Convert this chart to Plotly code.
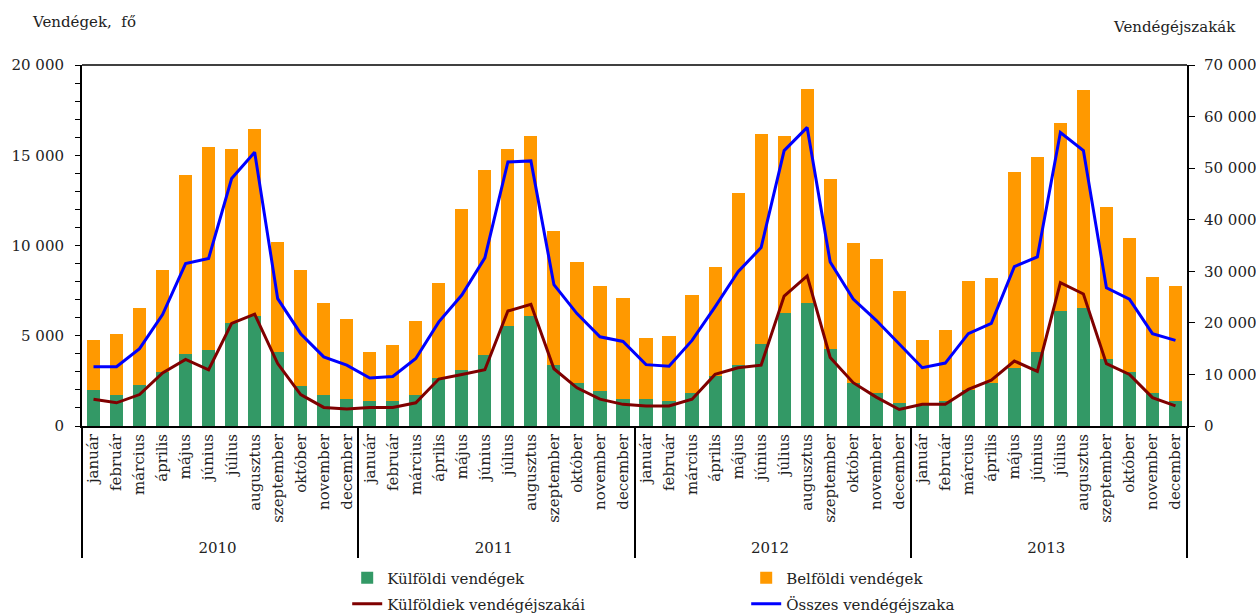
import plotly.graph_objects as go

years = ["2010", "2011", "2012", "2013"]
months = ["január", "február", "március", "április", "május", "június", "július",
          "augusztus", "szeptember", "október", "november", "december"]

kulfoldi_vendegek = [
    2020, 1740, 2290, 2990, 4010, 4200, 5730, 6100, 4100, 2200, 1740, 1480,
    1390, 1390, 1740, 2660, 3090, 3920, 5550, 6100, 3360, 2380, 1940, 1480,
    1480, 1390, 1830, 2750, 3360, 4570, 6270, 6820, 4290, 2380, 1850, 1280,
    1200, 1390, 2020, 2380, 3220, 4100, 6380, 6560, 3730, 2990, 1830, 1390,
]
belfoldi_vendegek = [
    2720, 3370, 4250, 5640, 9890, 11260, 9610, 10330, 6080, 6430, 5080, 4440,
    2720, 3090, 4090, 5250, 8910, 10240, 9800, 9960, 7430, 6690, 5800, 5620,
    3420, 3620, 5430, 6040, 9540, 11590, 9800, 11870, 9410, 7780, 7430, 6190,
    3550, 3920, 5990, 5800, 10850, 10800, 10410, 12050, 8430, 7450, 6430, 6360,
]
kulfoldiek_ejszakai = [
    5200, 4500, 6100, 10300, 12900, 10900, 19900, 21700, 12100, 6100, 3600, 3300,
    3600, 3600, 4500, 9100, 10000, 10900, 22300, 23600, 11100, 7400, 5200, 4200,
    3900, 3900, 5200, 10000, 11300, 11800, 25200, 29100, 13300, 8400, 5600, 3200,
    4200, 4200, 7100, 8900, 12600, 10600, 27800, 25600, 12100, 10000, 5500, 3900,
]
osszes_ejszaka = [
    11500, 11500, 15000, 21600, 31500, 32500, 48000, 53100, 24700, 17900, 13400, 11800,
    9300, 9600, 13100, 20200, 25400, 32600, 51200, 51400, 27400, 21800, 17300, 16400,
    11900, 11600, 16600, 23100, 29900, 34600, 53400, 57900, 31800, 24600, 20500, 16000,
    11300, 12200, 17900, 19900, 30900, 32800, 56900, 53400, 26800, 24600, 17900, 16600,
]

x_years = [y for y in years for _ in months]
x_months = months * len(years)
x = [x_years, x_months]

FONT = "DejaVu Serif"
TXT = "#222222"
fig = go.Figure()
fig.add_trace(go.Bar(x=x, y=kulfoldi_vendegek, name="Külföldi vendégek",
                     marker=dict(color="#339966", line=dict(width=0)), legend="legend"))
fig.add_trace(go.Bar(x=x, y=belfoldi_vendegek, name="Belföldi vendégek",
                     marker=dict(color="#FF9900", line=dict(width=0)), legend="legend"))
fig.add_trace(go.Scatter(x=x, y=kulfoldiek_ejszakai, name="Külföldiek vendégéjszakái",
                         mode="lines", line=dict(color="#7F0000", width=3), yaxis="y2",
                         legend="legend2"))
fig.add_trace(go.Scatter(x=x, y=osszes_ejszaka, name="Összes vendégéjszaka",
                         mode="lines", line=dict(color="#0000FF", width=3), yaxis="y2",
                         legend="legend2"))

fig.update_layout(
    width=1256, height=614,
    margin=dict(l=82, r=69, t=65, b=188, autoexpand=False),
    paper_bgcolor="white", plot_bgcolor="white",
    font=dict(family=FONT, size=15, color=TXT),
    separators=", ",
    barmode="stack", bargap=0.43,
    xaxis=dict(type="multicategory", tickangle=-90, showdividers=True,
               dividercolor="black", dividerwidth=1.5, showline=True,
               linecolor="black", linewidth=2, showgrid=False,
               tickfont=dict(family=FONT, size=15, color=TXT)),
    yaxis=dict(range=[0, 20000], dtick=5000, tickformat=",d", showgrid=False,
               showline=True, linecolor="black", linewidth=2, ticks="outside",
               ticklen=5, tickcolor="black", ticklabelstandoff=8,
               minor=dict(dtick=1000, ticks="outside", ticklen=5, tickcolor="black"),
               zeroline=False),
    yaxis2=dict(range=[0, 70000], dtick=10000, tickformat=",d", overlaying="y",
                side="right", showgrid=False, showline=True, linecolor="black",
                linewidth=2, ticks="outside", ticklen=6, tickcolor="black",
                ticklabelstandoff=6, zeroline=False),
    legend=dict(orientation="h", x=0.240, xanchor="left", y=-0.421, yanchor="middle",
                entrywidth=354, traceorder="normal", font=dict(family=FONT, size=15),
                bgcolor="rgba(0,0,0,0)"),
    legend2=dict(orientation="h", x=0.240, xanchor="left", y=-0.493, yanchor="middle",
                 entrywidth=354, traceorder="normal", font=dict(family=FONT, size=15),
                 bgcolor="rgba(0,0,0,0)"),
    shapes=[dict(type="line", xref="paper", yref="paper", x0=0, x1=1, y0=1, y1=1,
                 line=dict(color="#404040", width=2))],
    annotations=[
        dict(text="Vendégek,  fő", xref="paper", yref="paper", x=-0.047, y=1.118,
             xanchor="left", yanchor="middle", showarrow=False,
             font=dict(family=FONT, size=15, color=TXT)),
        dict(text="Vendégéjszakák", xref="paper", yref="paper", x=0.989, y=1.105,
             xanchor="center", yanchor="middle", showarrow=False,
             font=dict(family=FONT, size=15, color=TXT)),
    ],
)

fig.write_html("out.html",
               config={"displayModeBar": False},
               post_script="document.body.style.margin='0';document.body.style.overflow='hidden';")
